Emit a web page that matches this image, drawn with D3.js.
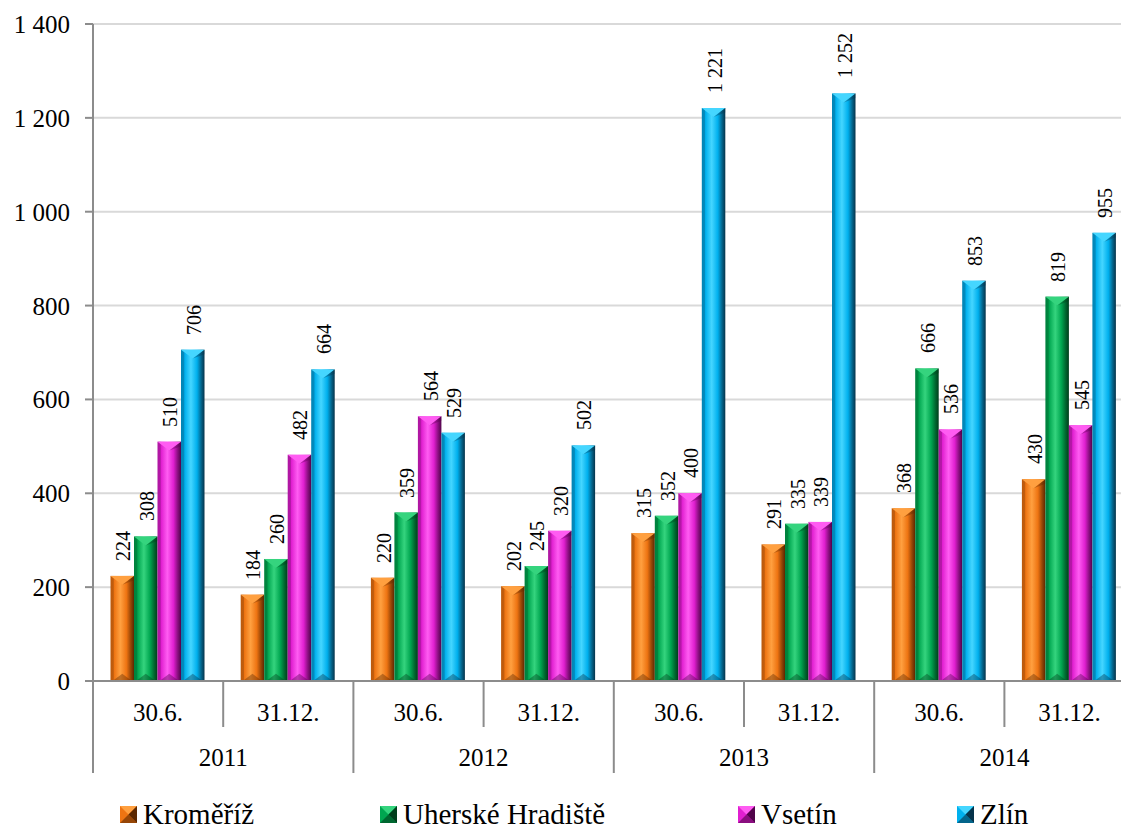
<!DOCTYPE html>
<html>
<head>
<meta charset="utf-8">
<script src="https://cdn.jsdelivr.net/npm/d3@7"></script>
</head>
<body style="margin:0">
<div id="wrap" style="position:relative;width:1121px;height:828px;overflow:hidden">
  <svg id="chart" width="1121" height="828" style="position:absolute;left:0;top:0"></svg>
  <div id="labels" style="position:absolute;left:0;top:0;width:1121px;height:828px"></div>
</div>
<script>
// data
const years = ["2011", "2012", "2013", "2014"];
const halves = ["30.6.", "31.12."];
const series = ["Kroměříž", "Uherské Hradiště", "Vsetín", "Zlín"];
const kromeriz = [224, 184, 220, 202, 315, 291, 368, 430];
const uherskeHradiste = [308, 260, 359, 245, 352, 335, 666, 819];
const vsetin = [510, 482, 564, 320, 400, 339, 536, 545];
const zlin = [706, 664, 529, 502, 1221, 1252, 853, 955];
const yTicks = [0, 200, 400, 600, 800, 1000, 1200, 1400];

// colours: [light, mid, dark]
const colors = [
  ["#ffa040", "#ee7412", "#5c2800"],
  ["#35d47e", "#00a650", "#003d1b"],
  ["#ff5cf2", "#e01fd0", "#50044a"],
  ["#45d6ff", "#00b0ee", "#06334a"]
];

const values = [kromeriz, uherskeHradiste, vsetin, zlin];
const cats = [];
years.forEach(y => halves.forEach(h => cats.push(y + "|" + h)));

const svg = d3.select("#chart");
const layer = d3.select("#labels");
const margin = { left: 93, top: 24, bottom: 681 };
const groupW = 130.2;

const x0 = d3.scaleBand().domain(cats).range([margin.left, margin.left + groupW * cats.length]);
const x1 = d3.scaleBand().domain(series).range([17.5, 17.5 + 94]);
const y = d3.scaleLinear().domain([0, 1400]).range([margin.bottom, margin.top]);

const fmt = d3.formatLocale({ thousands: " ", grouping: [3], decimal: ",", currency: ["", ""] }).format(",d");

// html text helper, the serif font shows up reliably there
function label(txt, x, yy, size, transform) {
  return layer.append("div")
    .style("position", "absolute")
    .style("left", x + "px").style("top", yy + "px")
    .style("font-family", "'Liberation Serif', 'Times New Roman', serif")
    .style("font-size", size + "px")
    .style("line-height", "1")
    .style("white-space", "nowrap")
    .style("color", "#000")
    .style("transform-origin", "0 0")
    .style("transform", transform)
    .text(txt);
}

// gradients
const defs = svg.append("defs");
colors.forEach((c, i) => {
  const g = defs.append("linearGradient").attr("id", "grad" + i).attr("x1", 0).attr("x2", 1).attr("y1", 0).attr("y2", 0);
  g.append("stop").attr("offset", "0%").attr("stop-color", d3.interpolateRgb(c[1], c[2])(0.35));
  g.append("stop").attr("offset", "12%").attr("stop-color", d3.interpolateRgb(c[1], c[2])(0.3));
  g.append("stop").attr("offset", "16%").attr("stop-color", c[1]);
  g.append("stop").attr("offset", "42%").attr("stop-color", c[0]);
  g.append("stop").attr("offset", "68%").attr("stop-color", c[1]);
  g.append("stop").attr("offset", "86%").attr("stop-color", d3.interpolateRgb(c[1], c[2])(0.6));
  g.append("stop").attr("offset", "100%").attr("stop-color", c[2]);
});

// gridlines
svg.append("g").selectAll("line").data(yTicks.filter(d => d > 0)).join("line")
  .attr("x1", margin.left).attr("x2", 1121)
  .attr("y1", d => y(d)).attr("y2", d => y(d))
  .attr("stroke", "#d9d9d9").attr("stroke-width", 2);

// y axis
svg.append("g").selectAll("line").data(yTicks).join("line")
  .attr("x1", margin.left - 8).attr("x2", margin.left)
  .attr("y1", d => y(d)).attr("y2", d => y(d))
  .attr("stroke", "#8c8c8c").attr("stroke-width", 2);
yTicks.forEach(d => label(fmt(d), margin.left - 23, y(d), 25, "translate(-100%, -50%)"));

svg.append("line").attr("x1", margin.left).attr("x2", margin.left)
  .attr("y1", margin.top).attr("y2", 773).attr("stroke", "#8c8c8c").attr("stroke-width", 2);

// bars
const groups = svg.append("g").selectAll("g").data(cats).join("g")
  .attr("transform", d => `translate(${x0(d)},0)`);

groups.each(function (cat, ci) {
  const g = d3.select(this);
  series.forEach((s, si) => {
    const v = values[si][ci];
    const bx = x1(s), bw = x1.bandwidth();
    const top = y(v), bot = y(0);
    const cap = bw * 0.38;
    g.append("rect").attr("x", bx).attr("y", top).attr("width", bw).attr("height", bot - top)
      .attr("fill", `url(#grad${si})`);
    // top bevel
    g.append("path")
      .attr("d", `M${bx},${top}L${bx + bw},${top}L${bx + bw / 2},${top + cap}Z`)
      .attr("fill", colors[si][0]);
    g.append("path")
      .attr("d", `M${bx + bw},${top}L${bx + bw / 2},${top + cap}L${bx + bw},${top + cap * 0.5}Z`)
      .attr("fill", colors[si][2]).attr("opacity", 0.35);
    // bottom bevel
    g.append("path")
      .attr("d", `M${bx + 2},${bot}L${bx + bw - 2},${bot}L${bx + bw / 2},${bot - cap * 0.8}Z`)
      .attr("fill", colors[si][2]).attr("opacity", 0.4);
    // value label, reads bottom to top
    label(fmt(v), x0(cat) + bx + bw / 2 + 1, top - 15, 20, "rotate(-90deg) translateY(-50%)");
  });
});

// x axis
svg.append("line").attr("x1", margin.left).attr("x2", 1121)
  .attr("y1", y(0)).attr("y2", y(0)).attr("stroke", "#8c8c8c").attr("stroke-width", 2);

const sepG = svg.append("g");
cats.forEach((c, i) => {
  if (i === 0) return;
  const xx = x0(c);
  sepG.append("line").attr("x1", xx).attr("x2", xx)
    .attr("y1", y(0)).attr("y2", i % 2 === 0 ? 773 : 727)
    .attr("stroke", "#8c8c8c").attr("stroke-width", 2);
});

cats.forEach(c => label(c.split("|")[1], x0(c) + groupW / 2, 712, 25, "translate(-50%, -50%)"));
years.forEach((yr, i) => label(yr, x0(cats[i * 2]) + groupW, 757, 25, "translate(-50%, -50%)"));

// legend
const legendX = [120, 380, 738, 957];
const leg = svg.append("g").selectAll("g").data(series).join("g")
  .attr("transform", (d, i) => `translate(${legendX[i]},806)`);
leg.each(function (s, i) {
  const g = d3.select(this);
  const sz = 17;
  g.append("rect").attr("width", sz).attr("height", sz).attr("fill", colors[i][1]);
  g.append("path").attr("d", `M0,0L${sz},0L${sz / 2},${sz / 2}Z`).attr("fill", colors[i][0]);
  g.append("path").attr("d", `M${sz},0L${sz},${sz}L${sz / 2},${sz / 2}Z`).attr("fill", colors[i][2]);
  g.append("path").attr("d", `M0,${sz}L${sz},${sz}L${sz / 2},${sz / 2}Z`).attr("fill", colors[i][2]).attr("opacity", 0.6);
  label(s, legendX[i] + 23, 814, 29, "translate(0, -50%)");
});
</script>
</body>
</html>
